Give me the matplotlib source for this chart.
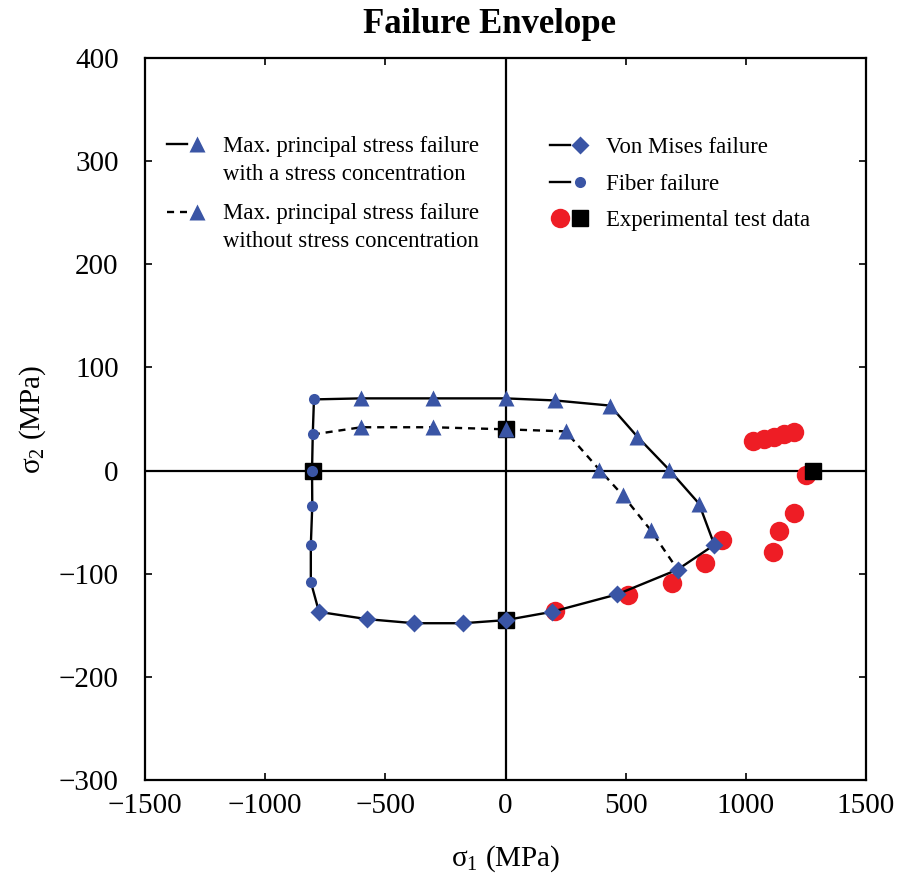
import matplotlib
matplotlib.use("Agg")
import matplotlib.pyplot as plt
from matplotlib.lines import Line2D
from matplotlib.legend_handler import HandlerTuple
from matplotlib.transforms import Affine2D

plt.rcParams['font.family'] = ['Liberation Serif', 'DejaVu Serif']
plt.rcParams['mathtext.fontset'] = 'custom'
plt.rcParams['mathtext.rm'] = 'Liberation Serif'
plt.rcParams['mathtext.it'] = 'Liberation Serif:italic'

# fiber failure (circles on the compressive side)
fiber_x = [-797, -802, -805, -804, -810, -810]
fiber_y = [69, 35, 0, -34, -72, -108]

# max principal stress, with stress concentration
msc_x = [-600, -300, 0, 205, 435, 548, 680, 805]
msc_y = [70, 70, 70, 68, 63, 33, 1, -32]

# max principal stress, without stress concentration
mnc_x = [-600, -300, 0, 250, 390, 488, 605]
mnc_y = [42, 42, 40, 38, 1, -24, -58]

# von mises
vm_x = [-776, -578, -380, -176, 0, 192, 465, 716, 869]
vm_y = [-137, -144, -148, -148, -145, -137, -120, -96, -72]

# experimental data
exp_x = [206, 508, 694, 830, 900, 1030, 1075, 1118, 1160, 1200, 1250, 1200, 1139, 1114]
exp_y = [-136, -121, -109, -90, -67, 29, 31, 33, 35, 37, -4, -41, -59, -79]
sq_x = [-800, 0, 0, 1280]
sq_y = [0, 40, -145, 0]

blue = '#3A55A5'
red = '#EE1D25'


class ShiftedTuple(HandlerTuple):
    # moves the handle up so it sits on the first line of a 2-line label
    def __init__(self, shift=0, **kw):
        super().__init__(**kw)
        self.shift = shift

    def create_artists(self, legend, orig_handle, xdescent, ydescent,
                       width, height, fontsize, trans):
        trans = Affine2D().translate(0, self.shift) + trans
        return super().create_artists(legend, orig_handle, xdescent, ydescent,
                                      width, height, fontsize, trans)


fig = plt.figure(figsize=(9.01, 8.80), dpi=100)
ax = fig.add_axes([145/901, 100/880, 721/901, 722/880])

ax.axhline(0, color='black', lw=1.6, zorder=1)
ax.axvline(0, color='black', lw=1.6, zorder=1)

ax.plot(exp_x, exp_y, 'o', color=red, ms=14, mec='none', zorder=2)
ax.plot(sq_x, sq_y, 's', color='black', ms=11, zorder=2)

# envelope lines
ax.plot(fiber_x, fiber_y, '-', color='black', lw=1.7, zorder=3)
ax.plot([fiber_x[0]] + msc_x + [vm_x[-1]], [fiber_y[0]] + msc_y + [vm_y[-1]],
        '-', color='black', lw=1.7, zorder=3)
ax.plot([fiber_x[1]] + mnc_x + [vm_x[-2]], [fiber_y[1]] + mnc_y + [vm_y[-2]],
        '--', color='black', lw=1.7, dashes=(3, 2.5), zorder=3)
ax.plot([fiber_x[-1]] + vm_x, [fiber_y[-1]] + vm_y, '-', color='black', lw=1.7, zorder=3)

# markers
ax.plot(msc_x, msc_y, '^', color=blue, ms=12, mec='none', zorder=4)
ax.plot(mnc_x, mnc_y, '^', color=blue, ms=12, mec='none', zorder=4)
ax.plot(vm_x, vm_y, 'D', color=blue, ms=9, mec='none', zorder=4)
ax.plot(fiber_x, fiber_y, 'o', color=blue, ms=8, mec='none', zorder=4)

ax.set_xlim(-1500, 1500)
ax.set_ylim(-300, 400)
ax.set_xticks(range(-1500, 1501, 500))
ax.set_yticks(range(-300, 401, 100))
ax.tick_params(direction='in', length=5, width=1.2, labelsize=21, top=True, right=True)
ax.tick_params(axis='x', pad=9)
ax.tick_params(axis='y', pad=19)
for s in ax.spines.values():
    s.set_linewidth(1.6)

ax.set_xlabel('σ$_1$ (MPa)', fontsize=21, labelpad=18)
ax.set_ylabel('σ$_2$ (MPa)', fontsize=21, labelpad=8)
ax.set_title('Failure Envelope', fontsize=25, fontweight='bold', pad=18, x=0.478)

# legends
ln_solid = Line2D([], [], color='black', lw=1.7)
ln_dash = Line2D([], [], color='black', lw=1.7, ls='--', dashes=(3, 2.5))
m_tri = Line2D([], [], marker='^', color=blue, ms=12, mec='none', ls='none')
m_dia = Line2D([], [], marker='D', color=blue, ms=9, mec='none', ls='none')
m_cir = Line2D([], [], marker='o', color=blue, ms=8, mec='none', ls='none')
m_red = Line2D([], [], marker='o', color=red, ms=14, mec='none', ls='none')
m_sq = Line2D([], [], marker='s', color='black', ms=11, ls='none')

leg_fs = 16.4
leg1 = ax.legend([(ln_solid, m_tri), (ln_dash, m_tri)],
                 ['Max. principal stress failure\nwith a stress concentration',
                  'Max. principal stress failure\nwithout stress concentration'],
                 handler_map={tuple: ShiftedTuple(shift=11.5, ndivide=None, pad=0)},
                 loc='upper left', bbox_to_anchor=(0.015, 0.908), frameon=False, borderpad=0,
                 fontsize=leg_fs, handlelength=1.75, handletextpad=0.7, labelspacing=0.8)
for t in leg1.get_texts():
    t.set_linespacing(1.45)
ax.add_artist(leg1)
ax.legend([(ln_solid, m_dia), (ln_solid, m_cir), (m_red, m_sq)],
          ['Von Mises failure', 'Fiber failure', 'Experimental test data'],
          handler_map={tuple: HandlerTuple(ndivide=None, pad=0)},
          loc='upper left', bbox_to_anchor=(0.546, 0.906), frameon=False, borderpad=0,
          fontsize=leg_fs, handlelength=1.75, handletextpad=0.7, labelspacing=0.68)

fig.savefig('out.png', dpi=100)
